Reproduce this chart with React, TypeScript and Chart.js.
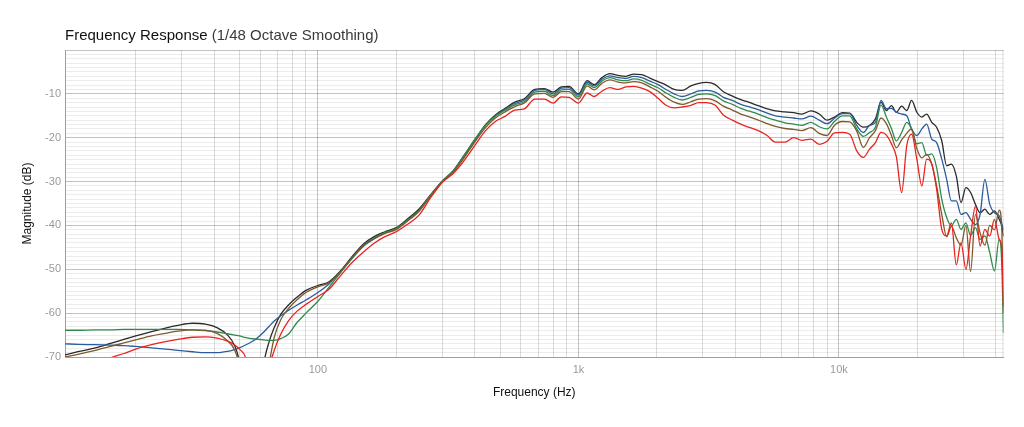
import { useEffect, useRef } from "react"
import { Chart, registerables } from "chart.js"

Chart.register(...registerables)

const FONT = "'Liberation Sans', Arial, sans-serif"

const TITLE_MAIN = "Frequency Response"
const TITLE_SUB = "(1/48 Octave Smoothing)"
const X_TITLE = "Frequency (Hz)"
const Y_TITLE = "Magnitude (dB)"

// shared frequency points (Hz)
const FREQS = [
  10.7, 12, 14, 16, 18, 20, 23, 26, 29, 33, 37, 41, 45, 48, 50, 53, 57, 62, 65, 68, 72, 77, 83, 90, 100,
  110, 122, 135, 150, 165, 180, 200, 220, 245, 270, 300, 330, 360, 400, 440, 480, 520, 570, 620, 680, 740, 800, 860, 920,
  1000, 1080, 1150, 1230, 1320, 1420, 1520, 1630, 1750, 1880, 2020, 2170, 2330, 2500, 2700, 2900, 3100, 3350, 3600, 3900,
  4200, 4500, 4900, 5300, 5700, 6200, 6700, 7200, 7800, 8400, 9000, 9600, 10300, 11000,
  11700, 12400, 13100, 13800, 14500, 15200, 15900, 16600, 17400, 18200, 19000, 19900, 20800, 21700, 22700, 23700,
  24800, 25900, 27000, 28200, 29400, 30700, 32000, 33400, 34800, 36300, 37900, 39500, 41200, 42100, 42800,
]

const BLACK = [
  -69.5, -68.8, -67.9, -66.9, -66.0, -65.2, -64.2, -63.4, -62.8, -62.3, -62.5, -63.3, -65.0, -67.5, -71.0, -80.0, -90.0, -71.5, -66.5, -63.3, -60.3, -58.2, -56.4, -54.8, -53.7,
  -52.9, -50.4, -47.2, -44.2, -42.5, -41.5, -40.5, -38.6, -36.2, -33.1, -29.9, -27.6, -24.4, -20.5, -17.0, -14.8, -13.4, -11.9, -11.1, -9.0, -8.8, -9.6, -8.4, -8.3,
  -10.0, -7.0, -7.9, -6.3, -5.4, -5.8, -6.0, -5.5, -5.6, -6.4, -7.2, -8.0, -9.0, -9.2, -8.2, -7.6, -7.4, -7.9, -9.5, -10.5,
  -11.3, -11.9, -12.7, -13.4, -13.9, -14.1, -14.3, -14.6, -13.9, -14.6, -16.0, -15.3, -14.3, -14.4,
  -16.5, -17.6, -17.2, -15.7, -11.9, -13.8, -12.7, -14.2, -12.8, -13.8, -11.5, -14.2, -15.3, -14.6, -16.5, -17.6,
  -20.7, -26.4, -26.0, -28.7, -34.8, -31.4, -32.5, -35.2, -37.1, -36.3, -37.5, -36.7, -38.6, -40.0, -42.5,
]

const BLUE = [
  -67.0, -67.1, -67.2, -67.3, -67.4, -67.6, -67.9, -68.2, -68.5, -68.8, -69.0, -69.0, -68.7, -68.3, -67.9, -67.2, -66.2, -64.3, -63.0, -61.8, -60.6, -59.4, -58.2, -57.0, -55.3,
  -53.4, -50.7, -47.6, -44.7, -43.0, -41.8, -40.7, -38.9, -36.6, -33.3, -30.0, -27.7, -24.6, -20.6, -17.2, -15.0, -13.6, -12.2, -11.4, -9.2, -9.0, -10.0, -8.7, -8.6,
  -10.3, -7.3, -8.2, -6.7, -5.9, -6.3, -6.5, -6.0, -6.3, -7.1, -7.9, -9.0, -10.0, -10.6, -10.0, -9.3, -9.2, -9.6, -10.8, -11.5,
  -12.4, -12.9, -13.6, -14.4, -15.0, -15.3, -15.5, -15.7, -15.1, -16.0, -16.8, -15.6, -14.5, -14.5,
  -17.2, -18.8, -17.2, -16.5, -11.5, -13.4, -13.3, -14.2, -14.6, -15.0, -18.0, -19.5, -18.0, -16.9, -20.3, -21.1,
  -24.9, -29.5, -34.4, -34.4, -37.5, -37.1, -38.6, -39.8, -37.5, -29.5, -35.2, -37.1, -37.8, -39.5, -41.0,
]

const GREEN = [
  -63.9, -63.9, -63.8, -63.8, -63.7, -63.7, -63.7, -63.7, -63.7, -63.8, -64.0, -64.3, -64.7, -65.0, -65.2, -65.6, -65.9, -66.1, -66.2, -66.2, -65.8, -64.8, -62.2, -60.0, -57.3,
  -54.2, -50.8, -47.5, -44.5, -42.8, -41.7, -40.7, -38.9, -36.5, -33.2, -29.9, -27.6, -24.5, -20.4, -17.2, -15.1, -13.8, -12.5, -11.8, -9.6, -9.4, -10.4, -9.1, -9.0,
  -10.7, -7.7, -8.6, -7.1, -6.3, -6.8, -7.0, -6.6, -6.9, -7.8, -8.6, -9.8, -10.8, -11.4, -10.8, -10.1, -10.0, -10.4, -11.6, -12.4,
  -13.3, -13.9, -14.6, -15.4, -16.0, -16.6, -16.9, -17.2, -16.5, -17.5, -18.0, -16.3, -15.0, -15.0,
  -18.0, -19.7, -18.8, -17.6, -12.5, -15.3, -17.9, -20.7, -18.8, -16.5, -18.0, -21.4, -21.1, -24.0, -23.7, -26.8,
  -34.0, -38.2, -40.1, -38.6, -40.9, -39.4, -42.3, -40.5, -43.2, -42.4, -46.2, -50.4, -43.2, -48.0, -64.5,
]

const BROWN = [
  -70.0, -69.4, -68.5, -67.6, -66.8, -66.1, -65.2, -64.6, -64.1, -63.8, -63.9, -64.6, -66.3, -68.5, -72.0, -82.0, -92.0, -78.0, -71.5, -65.5, -61.5, -59.0, -57.0, -55.3, -54.0,
  -53.1, -50.6, -47.4, -44.5, -42.9, -41.9, -40.9, -39.1, -36.7, -33.4, -30.1, -27.9, -25.0, -21.0, -17.7, -15.5, -14.2, -12.9, -12.1, -10.0, -9.9, -10.8, -9.5, -9.5,
  -11.2, -8.2, -9.1, -7.6, -6.8, -7.3, -7.5, -7.2, -7.5, -8.4, -9.4, -10.8, -11.9, -12.4, -11.8, -11.2, -11.1, -11.6, -12.8, -13.7,
  -14.6, -15.2, -16.0, -16.8, -17.4, -17.9, -18.1, -18.4, -17.7, -19.0, -19.5, -17.2, -16.3, -16.4,
  -18.5, -22.2, -20.0, -18.4, -15.5, -16.8, -19.5, -22.3, -20.5, -19.0, -18.0, -22.5, -24.6, -23.8, -26.0, -31.0,
  -37.5, -42.6, -40.2, -42.8, -44.5, -40.0, -50.5, -37.5, -41.7, -44.5, -40.0, -41.0, -36.5, -40.0, -60.0,
]

const RED = [
  -74.0, -73.0, -71.6, -70.2, -69.2, -68.2, -67.2, -66.5, -66.0, -65.5, -65.4, -65.7, -66.4, -67.3, -68.2, -70.5, -82.0, -85.0, -73.0, -68.5, -64.8, -61.8, -59.6, -58.0, -56.2,
  -54.6, -51.5, -48.5, -46.0, -44.0, -42.6, -41.4, -39.8, -37.6, -33.8, -30.2, -28.2, -25.6, -21.8, -18.4, -16.3, -15.2, -13.7, -13.4, -11.2, -11.2, -12.1, -10.7, -10.8,
  -12.1, -9.8, -10.6, -9.4, -8.6, -9.0, -8.4, -8.3, -8.7, -9.5, -11.0, -12.6, -13.2, -13.0, -12.6, -12.0, -12.0, -12.6, -14.8, -16.0,
  -16.9, -17.6, -18.4, -19.5, -21.0, -21.0, -20.0, -20.6, -20.3, -21.5, -20.8, -18.9, -18.8, -19.2,
  -23.0, -24.5, -22.6, -21.1, -18.8, -19.4, -21.4, -24.3, -32.5, -21.8, -19.2, -24.9, -31.0, -24.9, -26.0, -31.7,
  -40.9, -42.4, -39.4, -49.0, -43.9, -50.0, -42.4, -35.6, -44.7, -40.9, -42.4, -38.6, -43.2, -45.0, -58.5,
]

// first entry is drawn on top
const SERIES = [
  { name: "Red", color: "#e8231f", values: RED },
  { name: "Brown", color: "#7d5a2c", values: BROWN },
  { name: "Green", color: "#2f8a4c", values: GREEN },
  { name: "Blue", color: "#2b5d9c", values: BLUE },
  { name: "Black", color: "#2a2a2a", values: BLACK },
]

const X_MIN = 10.7
const X_MAX = 42800
const Y_MIN = -70
const Y_MAX = 0

// vertical grid positions and the few that carry labels
const GRID_FREQS = [
  20, 30, 40, 50, 60, 70, 80, 90, 100, 200, 300, 400, 500, 600, 700, 800, 900,
  1000, 2000, 3000, 4000, 5000, 6000, 7000, 8000, 9000, 10000, 20000, 30000, 40000,
]
const X_LABELS: Record<number, string> = { 100: "100", 1000: "1k", 10000: "10k" }

const GRID_H_MINOR = "rgba(0,0,0,0.075)"
const GRID_V_MINOR = "rgba(0,0,0,0.14)"
const GRID_MAJOR = "rgba(0,0,0,0.24)"

const textPlugin = {
  id: "fr-text",
  beforeDatasetsDraw(chart: any) {
    const { ctx, chartArea } = chart
    ctx.save()
    ctx.strokeStyle = GRID_V_MINOR
    ctx.lineWidth = 1
    ctx.beginPath()
    ctx.moveTo(chartArea.right - 0.5, chartArea.top)
    ctx.lineTo(chartArea.right - 0.5, chartArea.bottom)
    ctx.stroke()
    ctx.restore()
  },
  afterDraw(chart: any) {
    const { ctx, chartArea } = chart
    ctx.save()
    ctx.textBaseline = "alphabetic"
    ctx.textAlign = "left"
    ctx.font = `15px ${FONT}`
    ctx.fillStyle = "#111"
    ctx.fillText(TITLE_MAIN, chartArea.left, 40)
    const w = ctx.measureText(TITLE_MAIN + " ").width
    ctx.fillStyle = "#3a3a3a"
    ctx.fillText(TITLE_SUB, chartArea.left + w, 40)

    ctx.font = `12px ${FONT}`
    ctx.fillStyle = "#111"
    ctx.textAlign = "center"
    ctx.textBaseline = "middle"
    ctx.fillText(X_TITLE, (chartArea.left + chartArea.right) / 2, 393)

    ctx.translate(28, (chartArea.top + chartArea.bottom) / 2)
    ctx.rotate(-Math.PI / 2)
    ctx.fillText(Y_TITLE, 0, 0)
    ctx.restore()
  },
}

export default function App() {
  const chartRef = useRef<HTMLCanvasElement>(null)
  const chartInstance = useRef<Chart | null>(null)

  useEffect(() => {
    document.body.style.margin = "0"
    if (!chartRef.current) return
    if (chartInstance.current) chartInstance.current.destroy()

    const datasets = SERIES.map((s) => ({
      label: s.name,
      data: FREQS.map((f, i) => ({ x: f, y: s.values[i] })),
      borderColor: s.color,
      backgroundColor: s.color,
      borderWidth: 1.3,
      pointRadius: 0,
      fill: false,
      cubicInterpolationMode: "monotone" as const,
    }))

    chartInstance.current = new Chart(chartRef.current, {
      type: "line",
      data: { datasets },
      plugins: [textPlugin],
      options: {
        animation: false,
        responsive: true,
        maintainAspectRatio: false,
        events: [],
        layout: { padding: { top: 50, right: 20.5, left: 0, bottom: 0 } },
        plugins: {
          legend: { display: false },
          title: { display: false },
          tooltip: { enabled: false },
        },
        scales: {
          x: {
            type: "logarithmic",
            min: X_MIN,
            max: X_MAX,
            afterBuildTicks: (scale: any) => {
              scale.ticks = GRID_FREQS.map((v) => ({ value: v }))
            },
            afterFit: (scale: any) => {
              scale.height = 70
            },
            border: { display: true, color: "#9e9e9e" },
            grid: {
              drawTicks: false,
              color: (c: any) => (c.tick && X_LABELS[c.tick.value] ? GRID_MAJOR : GRID_V_MINOR),
            },
            ticks: {
              autoSkip: false,
              maxRotation: 0,
              padding: 6,
              color: "#9a9a9a",
              font: { family: FONT, size: 11 },
              callback: (v: any) => X_LABELS[Number(v)] ?? "",
            },
          },
          y: {
            min: Y_MIN,
            max: Y_MAX,
            afterFit: (scale: any) => {
              scale.width = 65
            },
            border: { display: true, color: "#9e9e9e" },
            grid: {
              drawTicks: false,
              color: (c: any) => (c.tick && c.tick.value % 10 === 0 ? GRID_MAJOR : GRID_H_MINOR),
            },
            ticks: {
              stepSize: 1,
              autoSkip: false,
              padding: 4,
              color: "#9a9a9a",
              font: { family: FONT, size: 11 },
              callback: (v: any) => (Number(v) % 10 === 0 && Number(v) !== 0 ? String(v) : ""),
            },
          },
        },
      },
    })

    return () => {
      if (chartInstance.current) {
        chartInstance.current.destroy()
        chartInstance.current = null
      }
    }
  }, [])

  return (
    <div style={{ position: "relative", width: 1024, height: 427 }}>
      <canvas ref={chartRef} />
    </div>
  )
}
